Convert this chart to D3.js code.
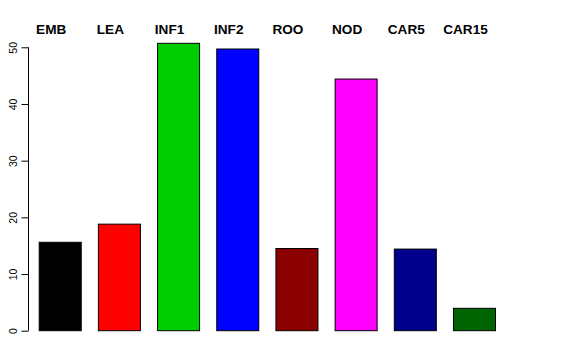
<!DOCTYPE html>
<html>
<head>
    <meta charset="utf-8">
    <style>
        body { margin: 0; background: #fff; }
        .axis path, .axis line { fill: none; stroke: #000; }
        .axis text { font-family: "Liberation Sans", Arial, sans-serif; font-size: 10.5px; fill: #000; }
        .lbl { font-family: "Liberation Sans", Arial, sans-serif; font-size: 13.6px; font-weight: bold; fill: #000; }
    </style>
    <script src="https://d3js.org/d3.v7.min.js"></script>
</head>
<body>
    <div id="graph"></div>
    <script>
        var categories = ["EMB", "LEA", "INF1", "INF2", "ROO", "NOD", "CAR5", "CAR15"];
        var values = [15.6, 18.8, 50.7, 49.7, 14.5, 44.4, 14.4, 3.95];
        var barColors = ["#000000", "#ff0000", "#00cd00", "#0000ff", "#8b0000", "#ff00ff", "#00008b", "#006400"];
        var yTicks = [0, 10, 20, 30, 40, 50];

        var width = 576, height = 360;

        var svg = d3.select("#graph").append("svg")
            .attr("width", width)
            .attr("height", height);

        var x = d3.scaleBand()
            .domain(categories)
            .range([38.7, 495])
            .paddingInner(0.29)
            .paddingOuter(0);

        var y = d3.scaleLinear()
            .domain([0, 50])
            .range([330.7, 47.3]);

        svg.selectAll(".bar")
            .data(categories)
            .enter().append("rect")
            .attr("class", "bar")
            .attr("x", function(d) { return x(d) + 0.5; })
            .attr("y", function(d, i) { return y(values[i]); })
            .attr("width", x.bandwidth())
            .attr("height", function(d, i) { return y(0) - y(values[i]); })
            .style("fill", function(d, i) { return barColors[i]; })
            .style("stroke", "#000")
            .style("stroke-width", 1);

        // labels above the plot
        svg.selectAll(".lbl")
            .data(categories)
            .enter().append("text")
            .attr("class", "lbl")
            .attr("x", function(d) { return x(d) + x.bandwidth() / 2 - 8.5; })
            .attr("y", 34)
            .attr("text-anchor", "middle")
            .text(function(d) { return d; });

        var yAxis = d3.axisLeft(y).tickValues(yTicks).tickSize(7).tickPadding(5);
        var gy = svg.append("g")
            .attr("class", "axis")
            .attr("transform", "translate(28.5,0)")
            .call(yAxis);
        gy.select(".domain").attr("d", "M0," + y(0) + "V" + y(50));
        gy.selectAll(".tick text")
            .attr("transform", "rotate(-90)")
            .attr("x", 0)
            .attr("y", -12)
            .attr("dy", 0)
            .attr("text-anchor", "middle");
    </script>
</body>
</html>
